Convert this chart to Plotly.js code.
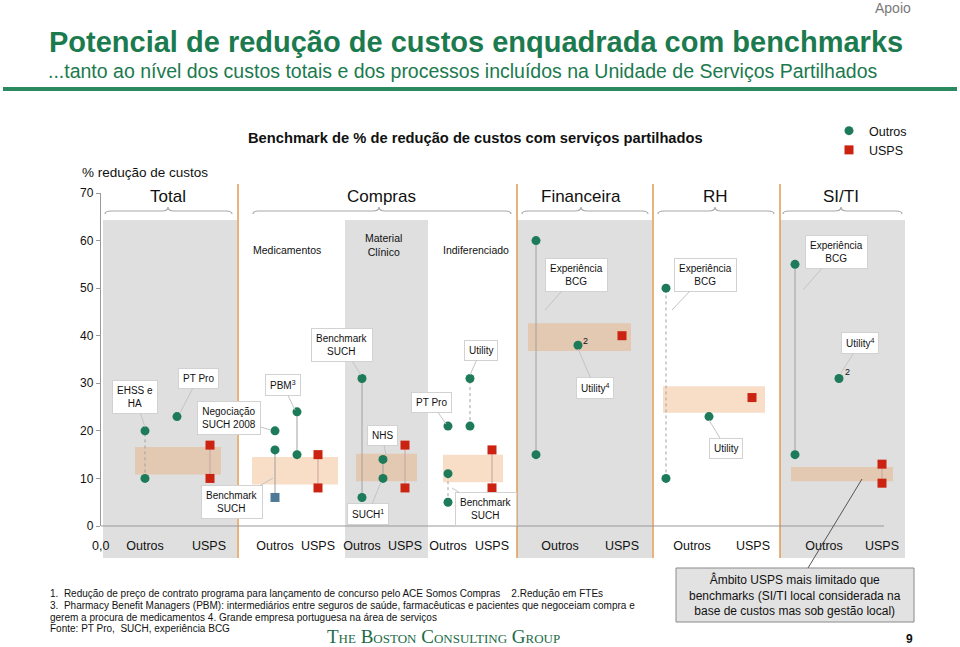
<!DOCTYPE html>
<html><head><meta charset="utf-8">
<script src="https://cdn.plot.ly/plotly-3.0.1.min.js"></script>
<style>html,body{margin:0;padding:0;background:#fff}#chart{width:960px;height:647px}</style>
</head><body><div id="chart"></div>
<script>
// ================= DATA =================
const groups = ['Total', 'Medicamentos', 'Material Clínico', 'Indiferenciado', 'Financeira', 'RH', 'SI/TI'];
const headerGroups = ['Total', 'Compras', 'Financeira', 'RH', 'SI/TI'];

// "Outros" benchmarks (% redução de custos); low = null -> single value
const benchName  = ['EHSS e HA', 'PT Pro', 'Negociação SUCH 2008', 'Benchmark SUCH', 'PBM³', 'Benchmark SUCH / SUCH¹', 'NHS', 'PT Pro', 'Benchmark SUCH', 'Utility', 'Experiência BCG', 'Utility⁴', 'Experiência BCG', 'Utility', 'Experiência BCG', 'Utility⁴'];
const benchGroup = ['Total', 'Total', 'Medicamentos', 'Medicamentos', 'Medicamentos', 'Material Clínico', 'Material Clínico', 'Indiferenciado', 'Indiferenciado', 'Indiferenciado', 'Financeira', 'Financeira', 'RH', 'RH', 'SI/TI', 'SI/TI'];
const benchHigh  = [20, 23, 20, 16, 24, 31, 14, 21, 11, 31, 60, 38, 50, 23, 55, 31];
const benchLow   = [10, null, null, 6, 15, 6, 10, null, 5, 21, 15, null, 10, null, 15, null];

// USPS values per group
const uspsHigh = [17, 15, 17, 16, 40, 27, 13];
const uspsLow  = [10, 8, 8, 8, null, null, 9];

// USPS potential band per group
const bandHigh = [16.6, 14.5, 15.2, 15.0, 42.6, 29.4, 12.4];
const bandLow  = [10.8, 8.7, 9.4, 9.2, 36.8, 23.8, 9.4];

// x-axis category labels
const tickText = ['Outros', 'USPS', 'Outros', 'USPS', 'Outros', 'USPS', 'Outros', 'USPS', 'Outros', 'USPS', 'Outros', 'USPS', 'Outros', 'USPS'];
const yTicks = [0, 10, 20, 30, 40, 50, 60, 70];

// ================= LAYOUT POSITIONS (x axis units) =================
const benchPos = [145, 177, 275, 275, 297, 362, 383, 448, 448, 470, 536, 578, 666, 709, 795, 839];
const benchDash = ['dot', null, null, 'solid', 'solid', 'solid', 'solid', null, 'dot', 'dot', 'solid', null, 'dot', null, 'solid', null];
const blueLowIdx = [3];  // Benchmark SUCH (Medicamentos) lower point drawn as a square
const uspsPos = [210, 318, 405, 492, 622, 752, 882];
const bandX0 = [135, 252, 356, 443, 528, 663, 791];
const bandX1 = [221, 338, 417, 503, 631, 765, 893];
const tickPos = [145, 209, 275, 318, 362, 405, 448, 492, 560, 622, 692, 753, 824, 882];

// ================= HELPERS =================
const W = 960, H = 647;
const X = p => p / W, Y = p => 1 - p / H;
const FONT = 'Liberation Sans, Arial, sans-serif';
const GREEN = '#1e7b5a', RED = '#cc2211', BLUE = '#4d7896';

// ================= TRACES =================
const traces = [];
benchHigh.forEach((hi, i) => {
  if (benchLow[i] !== null) {
    traces.push({x: [benchPos[i], benchPos[i]], y: [benchLow[i], hi], mode: 'lines', type: 'scatter',
      line: {color: '#a0a0a0', width: 1, dash: benchDash[i] === 'dot' ? 'dot' : 'solid'},
      hoverinfo: 'skip', showlegend: false});
  }
});
uspsHigh.forEach((hi, i) => {
  if (uspsLow[i] !== null) {
    traces.push({x: [uspsPos[i], uspsPos[i]], y: [uspsLow[i], hi], mode: 'lines', type: 'scatter',
      line: {color: '#c9a3a0', width: 1}, hoverinfo: 'skip', showlegend: false});
  }
});
const ox = [], oy = [], otext = [];
const bx = [], by = [];
benchHigh.forEach((hi, i) => {
  ox.push(benchPos[i]); oy.push(hi); otext.push(benchName[i]);
  if (benchLow[i] !== null) {
    if (blueLowIdx.includes(i)) { bx.push(benchPos[i]); by.push(benchLow[i]); }
    else { ox.push(benchPos[i]); oy.push(benchLow[i]); otext.push(benchName[i]); }
  }
});
const ux = [], uy = [];
uspsHigh.forEach((hi, i) => {
  ux.push(uspsPos[i]); uy.push(hi);
  if (uspsLow[i] !== null) { ux.push(uspsPos[i]); uy.push(uspsLow[i]); }
});
traces.push({x: ox, y: oy, text: otext, name: 'Outros', type: 'scatter', mode: 'markers',
  marker: {symbol: 'circle', size: 9, color: GREEN}});
traces.push({x: ux, y: uy, name: 'USPS', type: 'scatter', mode: 'markers',
  marker: {symbol: 'square', size: 9, color: RED}});
traces.push({x: bx, y: by, name: 'Benchmark SUCH', type: 'scatter', mode: 'markers', showlegend: false,
  marker: {symbol: 'square', size: 9, color: BLUE}});

// ================= SHAPES =================
const shapes = [];
// grey column backgrounds
[[103, 237], [345, 428], [517, 652], [780, 905]].forEach(([a, b]) => shapes.push({
  type: 'rect', xref: 'paper', yref: 'paper', x0: X(a), x1: X(b), y0: Y(558), y1: Y(220),
  fillcolor: '#dfdfdf', line: {width: 0}, layer: 'below'}));
// USPS potential bands
bandHigh.forEach((hi, i) => shapes.push({
  type: 'rect', xref: 'x', yref: 'y', x0: bandX0[i], x1: bandX1[i], y0: bandLow[i], y1: hi,
  fillcolor: 'rgba(235,160,100,0.36)', line: {width: 0}, layer: 'below'}));
// orange separators
[238, 517, 653, 780].forEach(p => shapes.push({
  type: 'line', xref: 'paper', yref: 'paper', x0: X(p), x1: X(p), y0: Y(184), y1: Y(558),
  line: {color: '#e39a50', width: 1.5}}));
// x axis baseline
shapes.push({type: 'line', xref: 'paper', yref: 'paper', x0: X(101), x1: X(884), y0: Y(526), y1: Y(526),
  line: {color: '#9a9a9a', width: 1.2}});
// braces under group headers
function brace(a, b, c) {
  const e = 214, m = 211, t = 207;
  const P = (x, y) => `${X(x)},${Y(y)}`;
  return `M ${P(a, e)} Q ${P(a, m)} ${P(a + 6, m)} L ${P(c - 6, m)} Q ${P(c, m)} ${P(c, t)} Q ${P(c, m)} ${P(c + 6, m)} L ${P(b - 6, m)} Q ${P(b, m)} ${P(b, e)}`;
}
[[105, 232, 168], [253, 511, 379], [522, 648, 581], [658, 774, 715], [783, 902, 841]].forEach(([a, b, c]) =>
  shapes.push({type: 'path', xref: 'paper', yref: 'paper', path: brace(a, b, c), line: {color: '#a8a8a8', width: 1.2}}));
// header green rule
shapes.push({type: 'rect', xref: 'paper', yref: 'paper', x0: X(3), x1: X(957), y0: Y(91), y1: Y(87),
  fillcolor: '#2b8a5f', line: {width: 0}});
// bottom-right note box
shapes.push({type: 'rect', xref: 'paper', yref: 'paper', x0: X(676), x1: X(914), y0: Y(622), y1: Y(568),
  fillcolor: '#e2e2e2', line: {color: '#8a8a8a', width: 1}});
shapes.push({type: 'line', xref: 'paper', yref: 'paper', x0: X(808), x1: X(862), y0: Y(568), y1: Y(479),
  line: {color: '#555', width: 1}});

// ================= ANNOTATIONS =================
const ann = [];
function txt(x, y, text, size, opt = {}) {
  ann.push(Object.assign({xref: 'paper', yref: 'paper', x: X(x), y: Y(y), text, showarrow: false,
    xanchor: 'center', yanchor: 'middle', font: {family: FONT, size, color: '#111'}}, opt));
}
txt(913, 8, 'Apoio', 14, {xanchor: 'right', font: {family: FONT, size: 14, color: '#7a7a7a'}});
txt(47, 42, '<b>Potencial de redução de custos enquadrada com benchmarks</b>', 29, {xanchor: 'left', font: {family: FONT, size: 29, color: '#1b7a4e'}});
txt(46, 71, '...tanto ao nível dos custos totais e dos processos incluídos na Unidade de Serviços Partilhados', 19.5, {xanchor: 'left', font: {family: FONT, size: 19.5, color: '#1b7a4e'}});
txt(475, 138, '<b>Benchmark de % de redução de custos com serviços partilhados</b>', 14.7);
txt(80, 172, '% redução de custos', 13.5, {xanchor: 'left'});
const headerX = [168, 381, 581, 715, 841];
headerGroups.forEach((g, i) => txt(headerX[i], 196, g, 17));
txt(287, 250, 'Medicamentos', 10.5);
txt(383, 245, 'Material<br>Clínico', 10.5);
txt(476, 250, 'Indiferenciado', 10.5);
txt(100, 546, '0,0', 12.5);

function callout(text, bx, by, px, py) {
  ann.push({xref: 'paper', yref: 'paper', x: X(px), y: Y(py), ax: bx - px, ay: by - py, text,
    showarrow: true, arrowhead: 0, arrowwidth: 1, arrowcolor: '#c4c4c4', standoff: 0,
    bgcolor: '#ffffff', bordercolor: '#d2d2d2', borderwidth: 1, borderpad: 4,
    font: {family: FONT, size: 10, color: '#111'}});
}
callout('EHSS e<br>HA', 135, 397, 145, 427);
callout('PT Pro', 198, 378, 180, 413);
callout('Negociação<br>SUCH 2008', 229, 418, 271, 430);
callout('PBM<sup>3</sup>', 283, 385, 295, 410);
callout('Benchmark<br>SUCH', 232, 502, 273, 478);
callout('Benchmark<br>SUCH', 342, 345, 361, 375);
callout('NHS', 382, 435, 386, 455);
callout('SUCH<sup>1</sup>', 368, 514, 381, 482);
callout('PT Pro', 431, 402, 446, 424);
callout('Utility', 481, 350, 470, 375);
callout('Benchmark<br>SUCH', 486, 509, 452, 488);
callout('Experiência<br>BCG', 576, 275, 545, 310);
callout('Utility<sup>4</sup>', 595, 388, 578, 349);
callout('Experiência<br>BCG', 705, 275, 672, 310);
callout('Utility', 726, 448, 709, 420);
callout('Experiência<br>BCG', 836, 252, 803, 290);
callout('Utility<sup>4</sup>', 860, 343, 841, 373);
txt(585, 341, '2', 9);
txt(847, 372, '2', 9);

const fn = {family: FONT, size: 10, color: '#111'};
txt(48, 593, '1.  Redução de preço de contrato programa para lançamento de concurso pelo ACE Somos Compras    2.Redução em FTEs', 10, {xanchor: 'left', font: fn});
txt(48, 605, '3.  Pharmacy Benefit Managers (PBM): intermediários entre seguros de saúde, farmacêuticas e pacientes que negoceiam compra e', 10, {xanchor: 'left', font: fn});
txt(48, 617, 'gerem a procura de medicamentos 4. Grande empresa portuguesa na área de serviços', 10, {xanchor: 'left', font: fn});
txt(48, 628, 'Fonte: PT Pro,  SUCH, experiência BCG', 10, {xanchor: 'left', font: fn});
txt(443, 636, 'The Boston Consulting Group', 19, {font: {family: 'Liberation Serif, serif', size: 19, color: '#1b6b45', variant: 'small-caps'}});
txt(795, 595, 'Âmbito USPS mais limitado que<br>benchmarks (SI/TI local considerada na<br>base de custos mas sob gestão local)', 12);
txt(909, 639, '<b>9</b>', 12);

// ================= LAYOUT =================
const layout = {
  width: W, height: H, margin: {l: 0, r: 0, t: 0, b: 0},
  paper_bgcolor: '#ffffff', plot_bgcolor: 'rgba(0,0,0,0)',
  font: {family: FONT, color: '#111'},
  xaxis: {domain: [101 / W, 1], range: [101, 960], showgrid: false, zeroline: false, showline: false,
    tickmode: 'array', tickvals: tickPos, ticktext: tickText, ticks: '', ticklabelstandoff: 10,
    tickfont: {family: FONT, size: 12.5, color: '#111'}, fixedrange: true},
  yaxis: {domain: [(H - 526) / H, (H - 193) / H], range: [0, 70], showgrid: false, zeroline: false,
    showline: true, linecolor: '#9a9a9a', linewidth: 1.2, ticks: 'outside', ticklen: 4, tickcolor: '#9a9a9a',
    tickmode: 'array', tickvals: yTicks, tickfont: {family: FONT, size: 12, color: '#111'}, fixedrange: true},
  showlegend: true,
  legend: {x: X(829), y: Y(116), xanchor: 'left', yanchor: 'top', bgcolor: 'rgba(0,0,0,0)',
    font: {family: FONT, size: 12.5, color: '#111'}, itemwidth: 30, tracegroupgap: 0},
  shapes, annotations: ann
};
Plotly.newPlot('chart', traces, layout, {displayModeBar: false, staticPlot: true});
</script></body></html>
